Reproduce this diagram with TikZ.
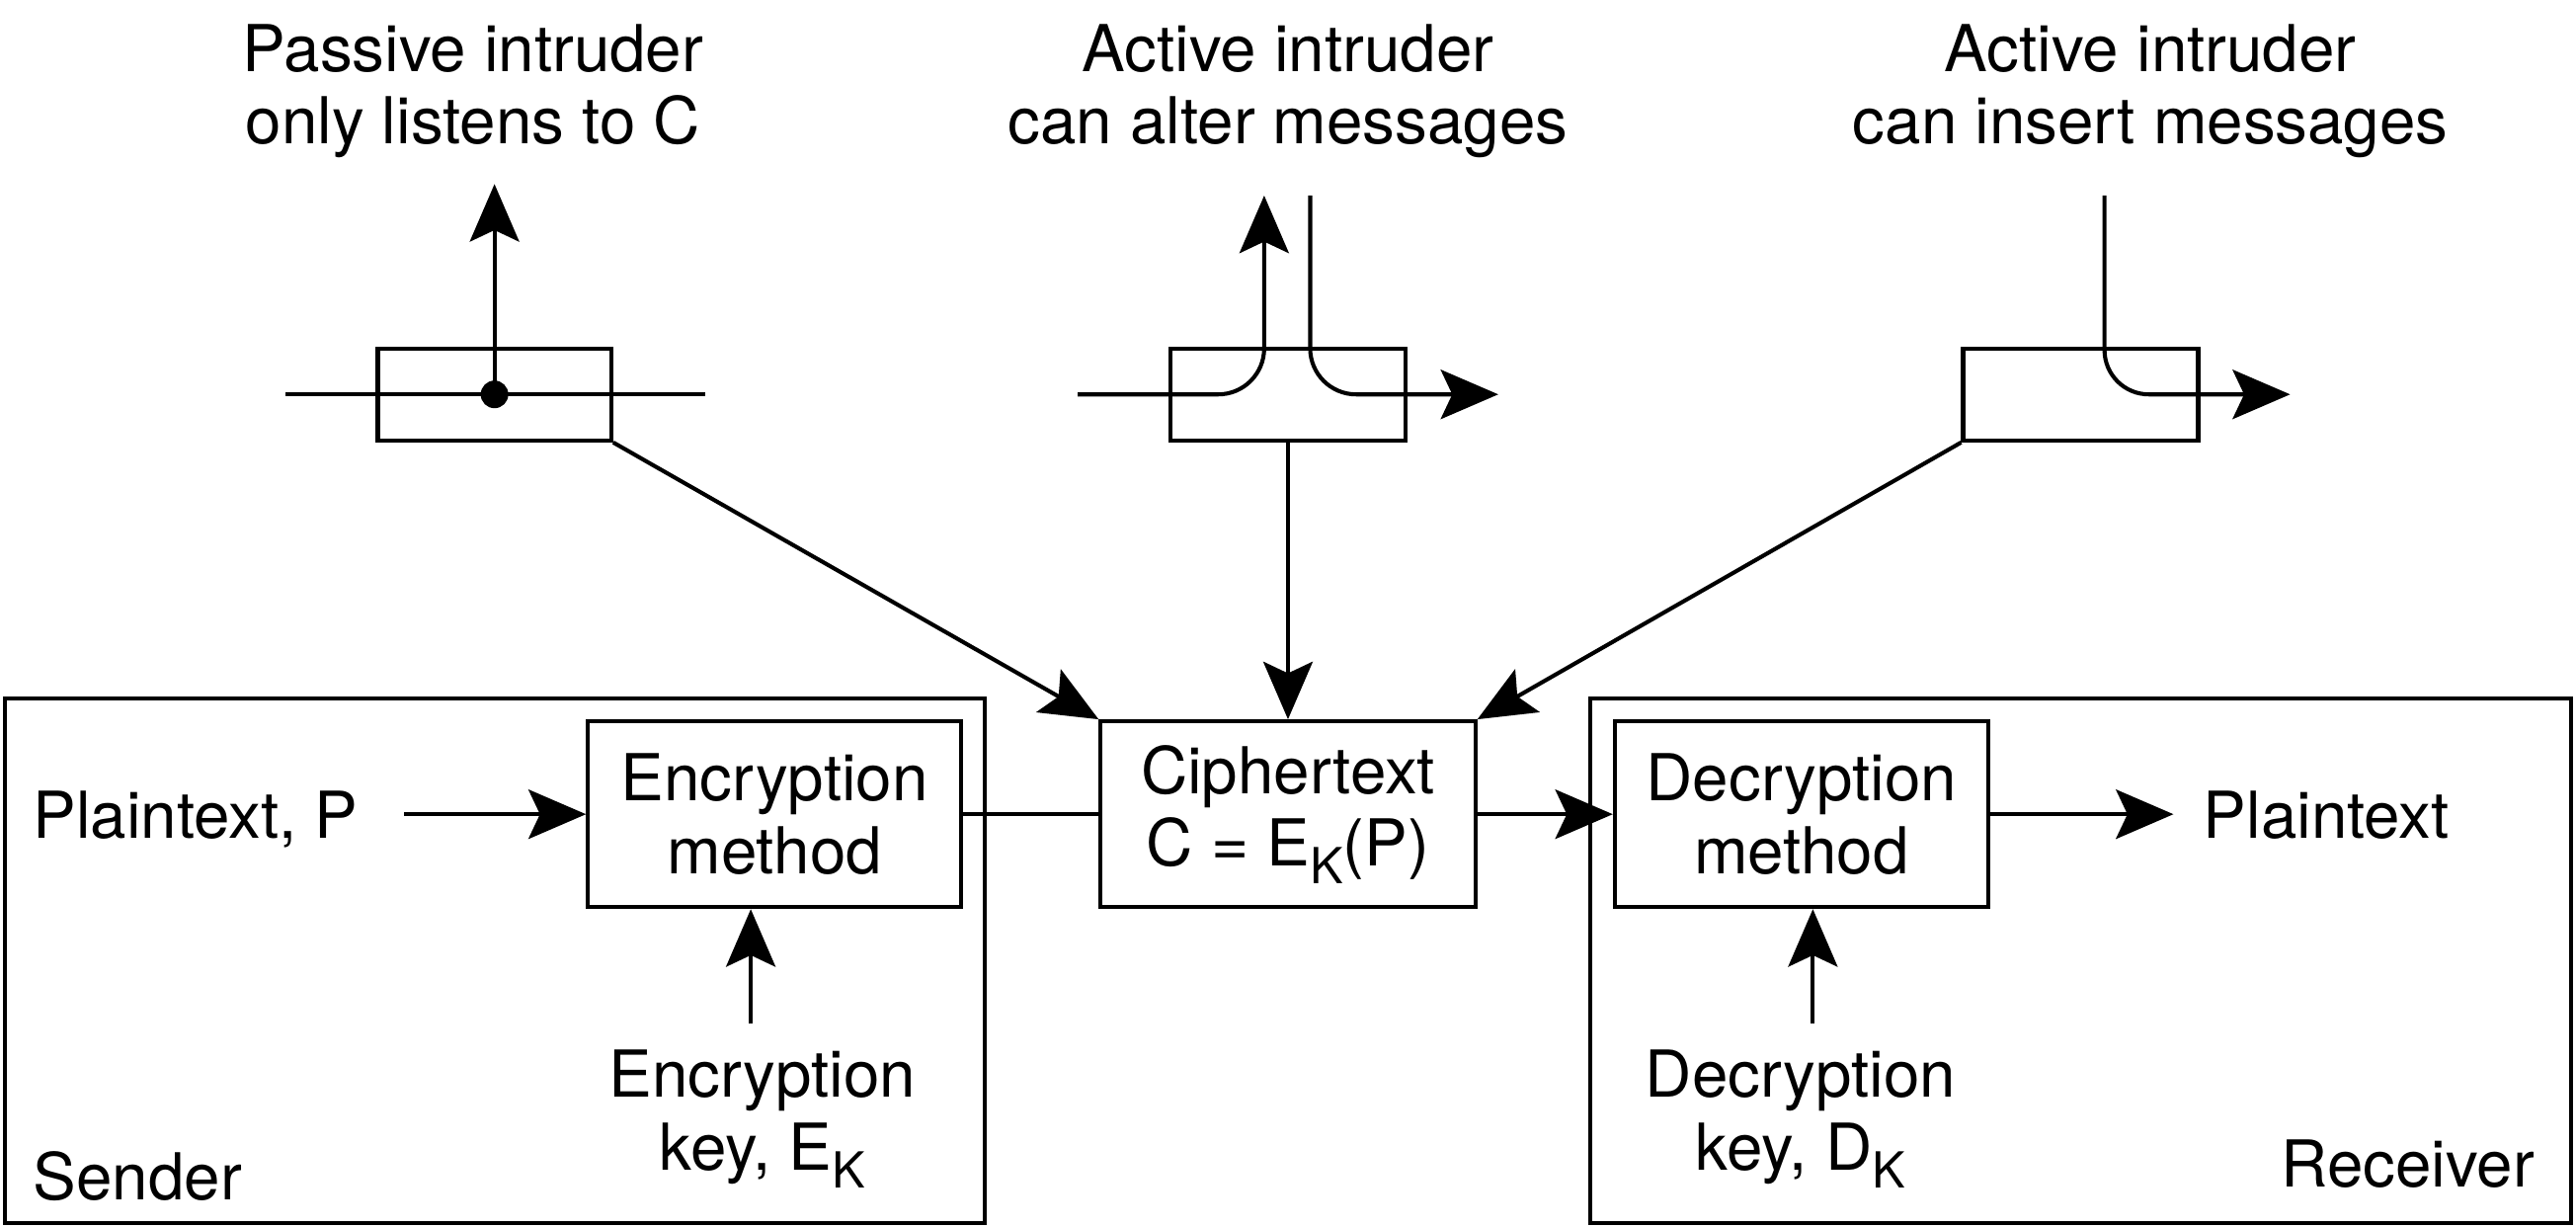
\documentclass[tikz,border=0pt]{standalone}
\usepackage{fontspec}
\setmainfont{TeX Gyre Heros}
\usetikzlibrary{arrows.meta}
\newcommand{\lowsub}[1]{\raisebox{-3pt}{\fontsize{8.6}{9}\selectfont #1}}

\begin{document}
\begin{tikzpicture}[
    x=0.01cm, y=-0.01cm,
    line width=0.7pt,
    every node/.style={font=\fontsize{11.2}{12.6}\selectfont},
    box/.style={draw, minimum width=2.27cm, minimum height=1.13cm, align=center, inner sep=0pt},
    tapbox/.style={draw, minimum width=1.43cm, minimum height=0.56cm, inner sep=0pt},
    partybox/.style={draw, minimum width=5.96cm, minimum height=3.19cm, inner sep=0pt},
    lbl/.style={align=center, inner sep=0pt},
    arr/.style={-{Stealth[length=0.35cm, width=0.3cm, inset=0.07cm]}}
]
\useasboundingbox (0,0) rectangle (1568,747);

% sender and receiver
\node[partybox] (sender) at (301,584.5) {};
\node[partybox, minimum width=5.97cm] (receiver) at (1266.5,584.5) {};
\node[anchor=base west, inner sep=0pt] (sname) at (19,730) {Sender};
\node[anchor=base east, inner sep=0pt] (rname) at (1544,722.5) {Receiver};

% main boxes
\node[box] (enc) at (471.5,495.5) {Encryption\\method};
\node[box, minimum width=2.28cm] (cipher) at (784,495.5) {Ciphertext\\C = E\lowsub{K}(P)};
\node[box] (dec) at (1096.5,495.5) {Decryption\\method};

\node[anchor=base west, inner sep=0pt] (ptin) at (19,510) {Plaintext, P};
\node[anchor=base west, inner sep=0pt] (ptout) at (1340,510) {Plaintext};
\draw[arr, shorten <=0.27cm] (enc.west -| ptin.east) -- (enc.west);
\draw (enc) -- (cipher);
\draw[arr] (cipher) -- (dec);
\draw[arr, shorten >=0.17cm] (dec.east) -- (dec.east -| ptout.west);

% keys
\node[lbl, anchor=north] (enckey) at (464,638) {Encryption\\key, E\lowsub{K}};
\node[lbl, anchor=north] (deckey) at (1096,638) {Decryption\\key, D\lowsub{K}};
\coordinate (enctail) at (457,623);
\coordinate (dectail) at (1103.5,623);
\draw[arr] (enctail) -- (enctail |- enc.south);
\draw[arr] (dectail) -- (dectail |- dec.south);

% intruders
\node[lbl, anchor=north] (lbl1) at (288,13.5) {Passive intruder\\only listens to C};
\node[lbl, anchor=north] (lbl2) at (784,13.5) {Active intruder\\can alter messages};
\node[lbl, anchor=north] (lbl3) at (1309,13.5) {Active intruder\\can insert messages};

\node[tapbox, minimum width=1.42cm] (tap1) at (301,240) {};
\node[tapbox] (tap2) at (784,240) {};
\node[tapbox] (tap3) at (1266.5,240) {};

% passive tap
\coordinate (in1) at (174,240);
\coordinate (out1) at (429,240);
\coordinate (up1) at (301,112);
\draw (in1) -- (out1);
\fill (tap1.center) circle (0.084cm);
\draw[arr] (tap1.center) -- (up1);

% altering tap
\coordinate (in2) at (656,240);
\coordinate (up2) at (769.5,119);
\coordinate (down2) at (797.5,119);
\coordinate (out2) at (912,240);
\draw[arr, rounded corners=0.28cm] (in2) -- (in2 -| up2) -- (up2);
\draw[arr, rounded corners=0.28cm] (down2) -- (down2 |- out2) -- (out2);

% inserting tap
\coordinate (down3) at (1281,119);
\coordinate (out3) at (1394,240);
\draw[arr, rounded corners=0.27cm] (down3) -- (down3 |- out3) -- (out3);

\draw[arr] (tap1.south east) -- (cipher.north west);
\draw[arr] (tap2.south) -- (cipher.north);
\draw[arr] (tap3.south west) -- (cipher.north east);
\end{tikzpicture}
\end{document}
